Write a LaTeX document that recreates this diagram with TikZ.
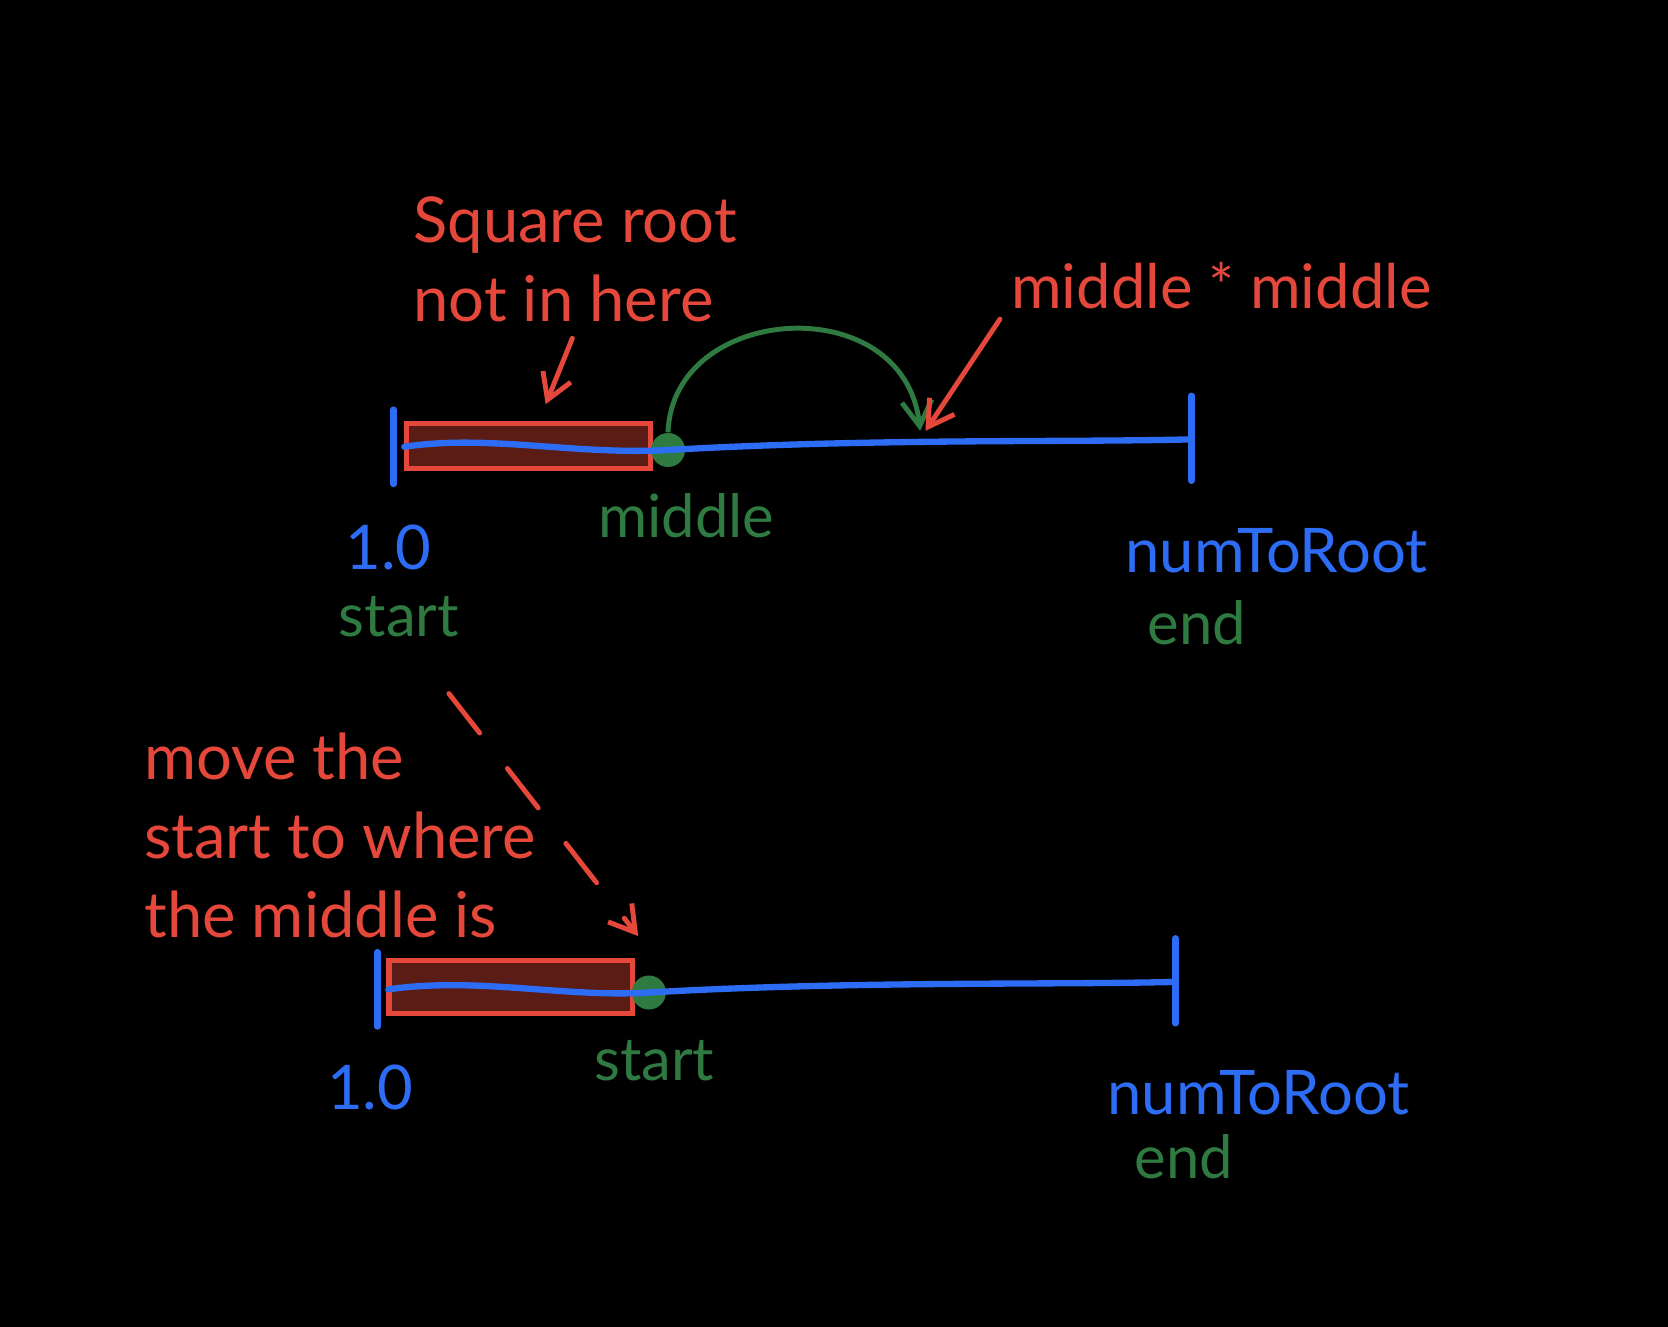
\documentclass[tikz,border=0pt]{standalone}
\usepackage{fontspec}
\setmainfont{Lato}
\usepackage{tikz}
\usetikzlibrary{arrows.meta,positioning}

\definecolor{inkred}{HTML}{E5483A}
\definecolor{inkblue}{HTML}{2D6CF5}
\definecolor{inkgreen}{HTML}{2F7A40}
\definecolor{boxfill}{HTML}{5B1C16}

\begin{document}
\begin{tikzpicture}[
    x=0.010638cm, y=-0.010638cm,
    redlab/.style={text=inkred, font=\fontsize{18}{22.5}\selectfont, align=left, anchor=west, inner sep=0pt},
    bluelab/.style={text=inkblue, font=\fontsize{17.5}{21}\selectfont, inner sep=0pt},
    greenlab/.style={text=inkgreen, font=\fontsize{17}{20}\selectfont, inner sep=0pt},
    numline/.style={draw=inkblue, line width=1.8pt, line cap=round},
    gonebox/.style={draw=inkred, fill=boxfill, line width=1.5pt, rectangle, inner sep=0pt},
    middot/.style={circle, fill=inkgreen, minimum size=0.34cm, inner sep=0pt},
    hop/.style={-{Straight Barb[length=0.25cm, width=0.3cm]}, draw=inkgreen, line width=1.4pt},
    note/.style={-{Straight Barb[length=0.25cm, width=0.3cm]}, draw=inkred, line width=1.4pt, line cap=round}
]
    \useasboundingbox[fill=black] (0,0) rectangle (1568,1247);

    % Top number line: 1.0 ... numToRoot
    \coordinate (tick1lt) at (370,385);
    \coordinate (tick1lb) at (370,455);
    \coordinate (tick1rt) at (1120,372);
    \coordinate (tick1rb) at (1120,452);
    \coordinate (l1) at (380,420);
    \coordinate (r1) at (1120,413);
    \node[gonebox, minimum width=2.44cm, minimum height=0.45cm] (box1) at (497,419) {};
    \node[middot] (dot1) at (628,423) {};
    \draw[numline] (tick1lt) -- (tick1lb);
    \draw[numline] (tick1rt) -- (tick1rb);
    \draw[numline] (l1) .. controls (460,408) and (540,428) .. (dot1.center)
        .. controls (820,412) and (1000,416) .. (r1);

    \node[bluelab] (num1) at (365,515) {1.0};
    \node[greenlab] (start1) at (375,580) {start};
    \node[greenlab] (mid1) at (645,485) {middle};
    \node[bluelab] (root1) at (1200,518) {numToRoot};
    \node[greenlab] (end1) at (1125,585) {end};

    % Labels and arrows on top line
    \node[redlab] (sqrt) at (388,244) {Square root\\not in here};
    \coordinate (sqrttail) at (538,318);
    \coordinate (sqrthead) at (513,380);
    \draw[note] (sqrttail) -- (sqrthead);

    \coordinate (jump) at (865,405);
    \draw[hop] (dot1.north) .. controls (632,285) and (850,270) .. (jump);

    \node[redlab, font=\fontsize{17.5}{21}\selectfont] (mm) at (950,268) {middle * middle};
    \coordinate (mmtail) at (940,300);
    \coordinate (mmhead) at (870,405);
    \draw[note] (mmtail) -- (mmhead);

    % Move the start
    \node[redlab] (move) at (135,785) {move the\\start to where\\the middle is};
    \coordinate (movetail) at (422,652);
    \coordinate (movehead) at (600,880);
    \draw[note, dash pattern=on 0.5cm off 0.45cm] (movetail) -- (movehead);

    % Bottom number line
    \coordinate (tick2lt) at (355,895);
    \coordinate (tick2lb) at (355,965);
    \coordinate (tick2rt) at (1105,882);
    \coordinate (tick2rb) at (1105,962);
    \coordinate (l2) at (365,930);
    \coordinate (r2) at (1105,923);
    \node[gonebox, minimum width=2.43cm, minimum height=0.53cm] (box2) at (480,928) {};
    \node[middot] (dot2) at (610,933) {};
    \draw[numline] (tick2lt) -- (tick2lb);
    \draw[numline] (tick2rt) -- (tick2rb);
    \draw[numline] (l2) .. controls (450,918) and (530,938) .. (dot2.center)
        .. controls (800,922) and (990,926) .. (r2);

    \node[bluelab] (num2) at (348,1022) {1.0};
    \node[greenlab] (start2) at (615,997) {start};
    \node[bluelab] (root2) at (1183,1027) {numToRoot};
    \node[greenlab] (end2) at (1113,1087) {end};
\end{tikzpicture}
\end{document}
